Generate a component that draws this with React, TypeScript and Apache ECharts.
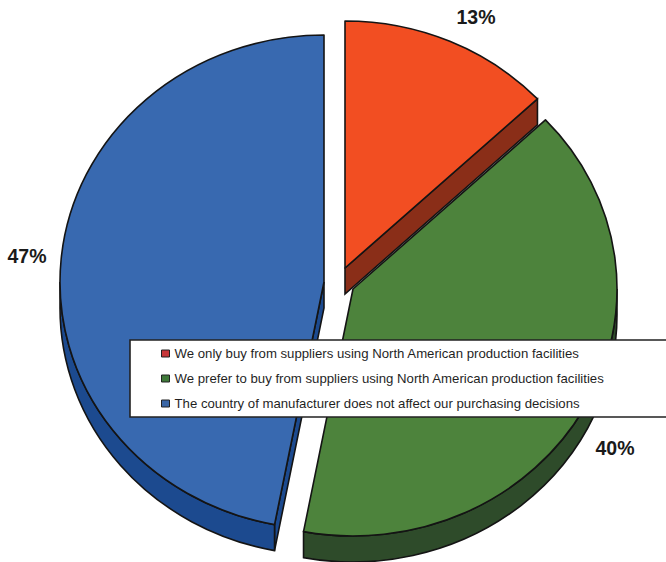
import React, { useEffect, useRef } from "react";
import * as echarts from "echarts";

const categories = [
  "We only buy from suppliers using North American production facilities",
  "We prefer to buy from suppliers using North American production facilities",
  "The country of manufacturer does not affect our purchasing decisions",
];
const shares = [13, 40, 47];

const faceColors = ["#F24E22", "#4D833C", "#3869B0"];
const wallColors = ["#8A2E18", "#2E4B2A", "#1C4A8F"];
const markerColors = ["#C8373A", "#3F7A3A", "#3A66A6"];

// Exploded slice apex and its percentage label, in page pixels.
const apexes = [
  [345, 268],
  [353, 289],
  [324, 282],
];
const labelAnchors = [
  [476, 17],
  [615, 448],
  [27, 256],
];

const RX = 264;
const RY = 247;
const DEPTH = 26;
const OUTLINE = "#141414";

const total = shares.reduce((a, b) => a + b, 0);
const startShare = (i: number) => shares.slice(0, i).reduce((a, b) => a + b, 0);

const onRim = (apex: number[], deg: number, drop = 0) => {
  const r = (deg * Math.PI) / 180;
  return [apex[0] + RX * Math.sin(r), apex[1] - RY * Math.cos(r) + drop];
};
const arcTo = (p: number[], large: boolean, sweep: boolean) =>
  `A ${RX} ${RY} 0 ${large ? 1 : 0} ${sweep ? 1 : 0} ${p[0]} ${p[1]}`;

const facePath = (apex: number[], a0: number, a1: number) => {
  const p0 = onRim(apex, a0);
  const p1 = onRim(apex, a1);
  return `M ${apex[0]} ${apex[1]} L ${p0[0]} ${p0[1]} ${arcTo(p1, a1 - a0 > 180, true)} Z`;
};
const rimWallPath = (apex: number[], a0: number, a1: number) => {
  const p0 = onRim(apex, a0);
  const p1 = onRim(apex, a1);
  const q0 = onRim(apex, a0, DEPTH);
  const q1 = onRim(apex, a1, DEPTH);
  return `M ${p0[0]} ${p0[1]} ${arcTo(p1, false, true)} L ${q1[0]} ${q1[1]} ${arcTo(q0, false, false)} Z`;
};
const edgeWallPath = (apex: number[], deg: number) => {
  const p = onRim(apex, deg);
  return `M ${apex[0]} ${apex[1]} L ${p[0]} ${p[1]} L ${p[0]} ${p[1] + DEPTH} L ${apex[0]} ${apex[1] + DEPTH} Z`;
};

const makeRenderItem = (i: number) => (_params: any, api: any) => {
  const a0 = (startShare(i) / total) * 360;
  const a1 = a0 + (api.value(0) / total) * 360;
  const apex = apexes[i];
  const wall = { fill: wallColors[i], stroke: OUTLINE, lineWidth: 1.6 };
  const children: any[] = [];

  // Side faces that turn towards the viewer.
  const sinStart = Math.sin((a0 * Math.PI) / 180);
  const sinEnd = Math.sin((a1 * Math.PI) / 180);
  if (sinStart < -1e-6) children.push({ type: "path", shape: { pathData: edgeWallPath(apex, a0) }, style: wall });
  if (sinEnd > 1e-6) children.push({ type: "path", shape: { pathData: edgeWallPath(apex, a1) }, style: wall });
  const rim0 = Math.max(a0, 90);
  const rim1 = Math.min(a1, 270);
  if (rim1 > rim0) children.push({ type: "path", shape: { pathData: rimWallPath(apex, rim0, rim1) }, style: wall });

  children.push({
    type: "path",
    shape: { pathData: facePath(apex, a0, a1) },
    style: { fill: faceColors[i], stroke: OUTLINE, lineWidth: 1.6, lineJoin: "round" },
  });
  children.push({
    type: "text",
    style: {
      x: labelAnchors[i][0],
      y: labelAnchors[i][1],
      text: `${api.value(0)}%`,
      fill: "#1a1a1a",
      font: 'bold 19.5px "Liberation Sans", Arial, sans-serif',
      align: "center",
      verticalAlign: "middle",
    },
  });
  return { type: "group", children };
};

// Green goes last so its top face sits over the orange side wall.
const drawOrder = [0, 2, 1];

export default function App() {
  const ref = useRef<HTMLDivElement>(null);
  useEffect(() => {
    const chart = echarts.init(ref.current!, null, { renderer: "svg" });
    chart.setOption({
      animation: false,
      backgroundColor: "#ffffff",
      legend: {
        orient: "vertical",
        left: 130,
        top: 340,
        padding: [7, 100, 7, 31],
        itemWidth: 8,
        itemHeight: 7,
        itemGap: 12,
        backgroundColor: "#ffffff",
        borderColor: "#222222",
        borderWidth: 1.6,
        selectedMode: false,
        textStyle: { fontFamily: '"Liberation Sans", Arial, sans-serif', fontSize: 13.2, color: "#1f1f1f" },
        data: categories.map((name, i) => ({
          name,
          icon: "rect",
          itemStyle: { color: markerColors[i], borderColor: "#222222", borderWidth: 1 },
        })),
      },
      series: drawOrder.map((i) => ({
        type: "custom",
        name: categories[i],
        coordinateSystem: "none",
        silent: true,
        renderItem: makeRenderItem(i),
        data: [[shares[i]]],
      })),
    });
    return () => chart.dispose();
  }, []);
  return <div ref={ref} style={{ position: "absolute", left: 0, top: 0, width: 666, height: 562 }} />;
}
